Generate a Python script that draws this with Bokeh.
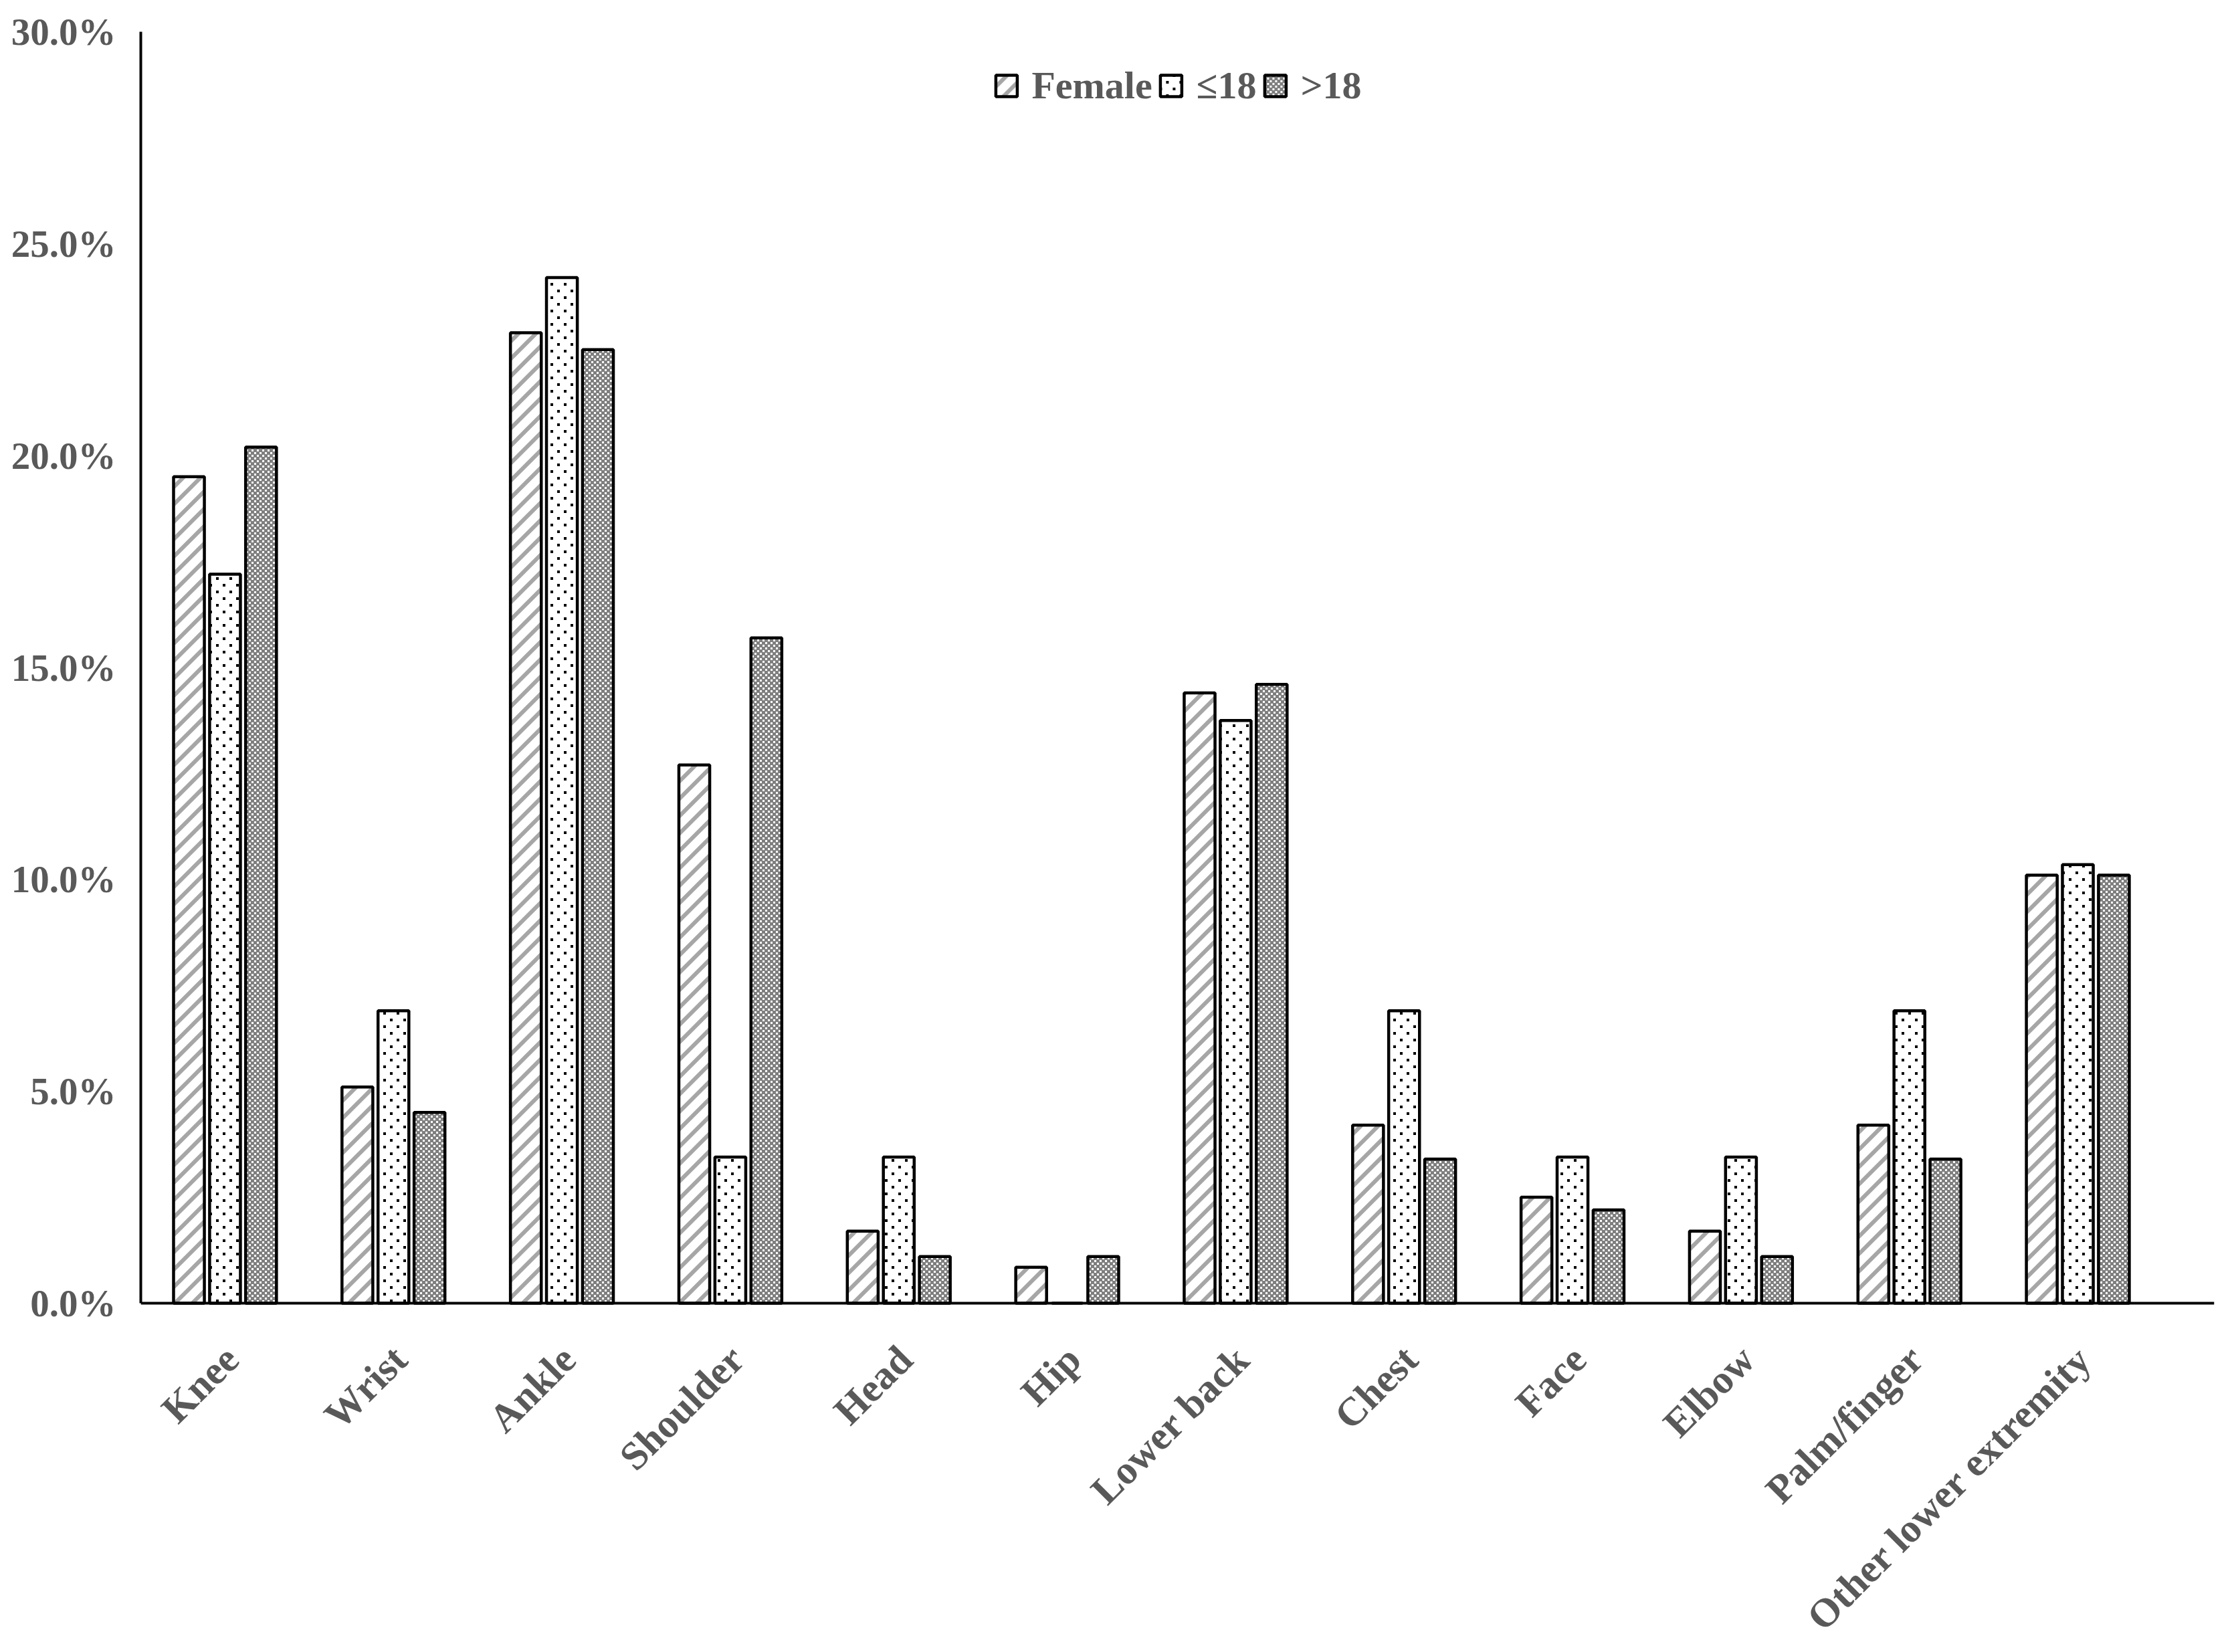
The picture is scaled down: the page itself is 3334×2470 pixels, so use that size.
import math
from bokeh.plotting import figure
from bokeh.models import (Range1d, FixedTicker, PrintfTickFormatter, CanvasTexture,
                          ColumnDataSource, Span)
from bokeh.core.properties import value
from bokeh.embed import file_html
from bokeh.resources import INLINE

categories = ["Knee", "Wrist", "Ankle", "Shoulder", "Head", "Hip", "Lower back",
              "Chest", "Face", "Elbow", "Palm/finger", "Other lower extremity"]
female = [19.5, 5.1, 22.9, 12.7, 1.7, 0.85, 14.4, 4.2, 2.5, 1.7, 4.2, 10.1]
age_le18 = [17.2, 6.9, 24.2, 3.45, 3.45, 0.0, 13.75, 6.9, 3.45, 3.45, 6.9, 10.35]
age_gt18 = [20.2, 4.5, 22.5, 15.7, 1.1, 1.1, 14.6, 3.4, 2.2, 1.1, 3.4, 10.1]
series_names = ["Female", "\u226418", ">18"]
y_ticks = [0, 5, 10, 15, 20, 25, 30]

FONT = "Liberation Serif"
TEXT_COLOR = "#595959"

# frame: 30% at y=47px, 0% at y=1948px, frame runs to the bottom of the figure
H = 2454
px_per_unit = (1948 - 47) / 30.0
y_bottom = -(H - 1948) / px_per_unit

p = figure(width=3318, height=H, output_backend="svg", toolbar_location=None,
           x_axis_location=None,
           x_range=Range1d(0, 12.31), y_range=Range1d(y_bottom, 30),
           min_border_left=210, min_border_right=8, min_border_top=47, min_border_bottom=0)
p.outline_line_color = None
p.xgrid.visible = False
p.ygrid.visible = False
p.background_fill_color = "white"

RESIZE = "try { ctx.canvas.width = %d; ctx.canvas.height = %d; ctx.setTransform(1,0,0,1,0,0); } catch (e) {}\n"

stripes = CanvasTexture(code=RESIZE % (26, 26) + """
const s = 26;
ctx.fillStyle = "#ffffff"; ctx.fillRect(0, 0, s, s);
ctx.strokeStyle = "#a6a6a6"; ctx.lineWidth = 6;
ctx.beginPath();
ctx.moveTo(-s, s); ctx.lineTo(s, -s);
ctx.moveTo(0, s); ctx.lineTo(s, 0);
ctx.moveTo(0, 2*s); ctx.lineTo(2*s, 0);
ctx.stroke();
""")
dots = CanvasTexture(code=RESIZE % (20, 20) + """
ctx.fillStyle = "#ffffff"; ctx.fillRect(0, 0, 20, 20);
ctx.fillStyle = "#000000";
ctx.fillRect(3, 3, 4, 4);
ctx.fillRect(13, 13, 4, 4);
""")
checks = CanvasTexture(code=RESIZE % (8, 8) + """
ctx.fillStyle = "#7f7f7f"; ctx.fillRect(0, 0, 8, 8);
ctx.fillStyle = "#ffffff";
ctx.fillRect(0, 0, 3, 3);
ctx.fillRect(4, 4, 3, 3);
""")

series = [female, age_le18, age_gt18]
offsets = [-0.214, 0.0, 0.214]
bar_w = 0.183
hatch_kw = [
    dict(hatch_pattern=value("stripes"), hatch_extra={"stripes": stripes}, hatch_scale=26),
    dict(hatch_pattern=value("dots"), hatch_extra={"dots": dots}, hatch_scale=20),
    dict(hatch_pattern=value("checks"), hatch_extra={"checks": checks}, hatch_scale=8),
]

for name, vals, off, hk in zip(series_names, series, offsets, hatch_kw):
    src = ColumnDataSource(dict(x=[i + 0.5 + off for i in range(len(categories))], top=vals))
    p.vbar(x="x", top="top", width=bar_w, bottom=0, source=src,
           fill_color="white", line_color="black", line_width=4.5,
           legend_label=name, **hk)

# y axis limited to 0..30
yax = p.yaxis[0]
yax.bounds = (0, 30)
yax.ticker = FixedTicker(ticks=y_ticks)
yax.formatter = PrintfTickFormatter(format="%.1f%%")
yax.major_tick_line_color = None
yax.minor_tick_line_color = None
yax.axis_line_width = 4
yax.axis_line_color = "black"
yax.major_label_standoff = 31
yax.major_label_text_font = FONT
yax.major_label_text_font_style = "bold"
yax.major_label_text_font_size = "57px"
yax.major_label_text_color = TEXT_COLOR

# category axis line at 0
p.add_layout(Span(location=0, dimension="width", line_color="black", line_width=4))

# category labels
label_src = ColumnDataSource(dict(x=[i + 0.5 for i in range(len(categories))],
                                  y=[-1.17] * len(categories), text=categories))
p.text(x="x", y="y", text="text", source=label_src, angle=math.pi / 4, x_offset=10,
       text_align="right", text_baseline="middle",
       text_font=value(FONT), text_font_style="bold",
       text_font_size="60px", text_color=TEXT_COLOR)

lg = p.legend[0]
lg.location = "top_center"
lg.orientation = "horizontal"
lg.margin = 47
lg.padding = 0
lg.spacing = 8
lg.label_standoff = 18
lg.glyph_width = 40
lg.glyph_height = 40
lg.border_line_color = None
lg.background_fill_alpha = 0
lg.label_text_font = FONT
lg.label_text_font_style = "bold"
lg.label_text_font_size = "58px"
lg.label_text_color = TEXT_COLOR

open("out.html", "w").write(file_html(p, INLINE))
